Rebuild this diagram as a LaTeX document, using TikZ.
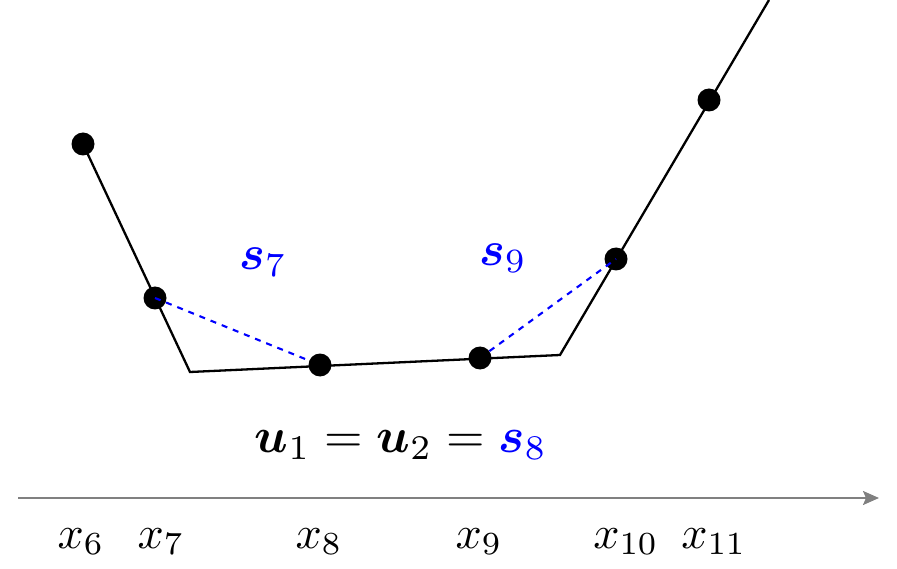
\documentclass[tikz,border=0pt]{standalone}
\usepackage{amsmath,bm,graphicx}
\usetikzlibrary{arrows.meta}
\newcommand{\myxl}[1]{\scalebox{4.6}{$#1$}}
\newcommand{\mysl}[1]{\scalebox{4.85}{$#1$}}
\newcommand{\myel}[1]{\scalebox{4.95}{$#1$}}
\begin{document}
\begin{tikzpicture}[x=1pt,y=-1pt,
  curve/.style={line width=2.3pt,black,line join=miter},
  dot/.style={circle,fill=black,inner sep=0pt,minimum size=23pt},
  chord/.style={blue,dashed,line width=2.1pt,dash pattern=on 6pt off 6pt},
  axis/.style={gray,line width=2pt,-{Stealth[length=16pt,width=14pt,inset=3pt]}},
  xlab/.style={anchor=base,inner sep=0pt},
  slab/.style={text=blue,inner sep=0pt},
  eqlab/.style={inner sep=0pt}]
\useasboundingbox (0,0) rectangle (897,569);
\begin{scope}
\clip (0,0) rectangle (897,569);
\coordinate (p0) at (83,144);
\coordinate (k1) at (190,372);
\coordinate (k2) at (560,355);
\coordinate (top) at (769,0);
\draw[curve] (p0) -- (k1) -- (k2) -- (top);
\end{scope}
\node[dot] (d6) at (83,144) {};
\node[dot] (d7) at (155,298) {};
\node[dot] (d8) at (320,365) {};
\node[dot] (d9) at (480,358) {};
\node[dot] (d10) at (616,259) {};
\node[dot] (d11) at (709,100) {};
\draw[chord] (d7.center) -- (d8);
\draw[chord] (d9) -- (d10.center);
\node[slab] (s7) at (263,262) {\mysl{\bm{s}_7}};
\node[slab] (s9) at (503,258) {\mysl{\bm{s}_9}};
\node[eqlab] (eq) at (401,445) {\myel{\bm{u}_1=\bm{u}_2=\textcolor{blue}{\bm{s}_8}}};
\coordinate (a0) at (18,498);
\coordinate (a1) at (879,498);
\draw[axis] (a0) -- (a1);
\node[xlab] (x6) at (81,548) {\myxl{x_6}};
\node[xlab] (x7) at (161,548) {\myxl{x_7}};
\node[xlab] (x8) at (319,548) {\myxl{x_8}};
\node[xlab] (x9) at (479,548) {\myxl{x_9}};
\node[xlab] (x10) at (626,548) {\myxl{x_{10}}};
\node[xlab] (x11) at (714,548) {\myxl{x_{11}}};
\end{tikzpicture}
\end{document}
